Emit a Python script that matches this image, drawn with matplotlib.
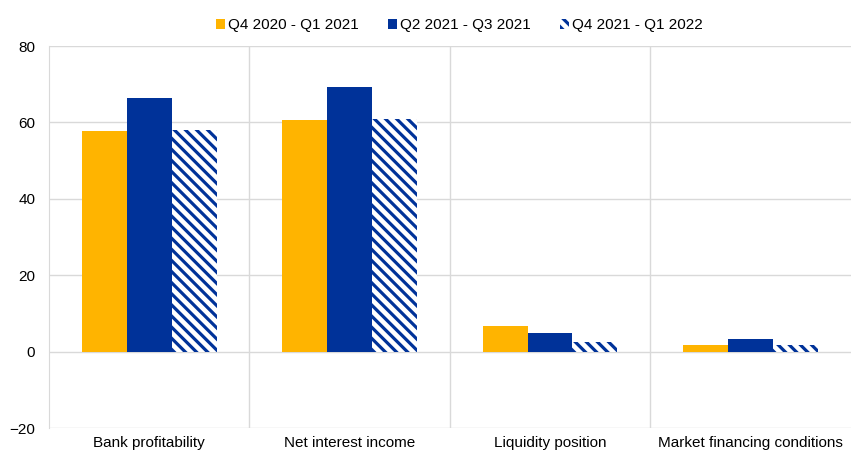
import matplotlib.pyplot as plt
import numpy as np

plt.rcParams['font.family'] = ['Liberation Sans', 'DejaVu Sans']
plt.rcParams['hatch.linewidth'] = 2.3

categories = ["Bank profitability", "Net interest income", "Liquidity position", "Market financing conditions"]
series_names = ["Q4 2020 - Q1 2021", "Q2 2021 - Q3 2021", "Q4 2021 - Q1 2022"]
q4_2020 = [57.8, 60.6, 6.8, 1.6]
q2_2021 = [66.4, 69.2, 5.0, 3.4]
q4_2021 = [58.0, 60.8, 2.4, 1.6]

yellow = "#FFB400"
blue = "#003299"

fig = plt.figure(figsize=(8.51, 4.58), dpi=100)
ax = fig.add_axes([0.0576, 0.0655, 0.942, 0.834])

x = np.arange(len(categories))
w = 0.224
ax.bar(x - w, q4_2020, w, color=yellow, label=series_names[0], zorder=3)
ax.bar(x, q2_2021, w, color=blue, label=series_names[1], zorder=3)
ax.bar(x + w, q4_2021, w, color="white", edgecolor=blue, hatch="\\\\\\", linewidth=0,
       label=series_names[2], zorder=3)

ax.set_xlim(-0.5, len(categories) - 0.5)
ax.set_ylim(-20, 80)
ax.set_yticks(range(-20, 81, 20))
ax.set_xticks(x)
ax.set_xticklabels(categories, fontsize=11)
ax.tick_params(axis='y', labelsize=11, length=0, pad=10)
ax.tick_params(axis='x', length=0, pad=6)

grid_c = "#D9D9D9"
ax.yaxis.grid(True, color=grid_c, linewidth=1, zorder=0)
for xb in np.arange(0.5, len(categories) - 0.5, 1):
    ax.axvline(xb, color=grid_c, linewidth=1, zorder=0)
for s in ["top", "right", "bottom"]:
    ax.spines[s].set_visible(False)
ax.spines["left"].set_color(grid_c)

leg = ax.legend(loc="lower center", bbox_to_anchor=(0.512, 1.0), ncol=3, frameon=False,
                fontsize=11, handlelength=0.6, handleheight=0.6, handletextpad=0.2,
                columnspacing=1.9, borderaxespad=0.5)

fig.savefig("out.png", dpi=100)
